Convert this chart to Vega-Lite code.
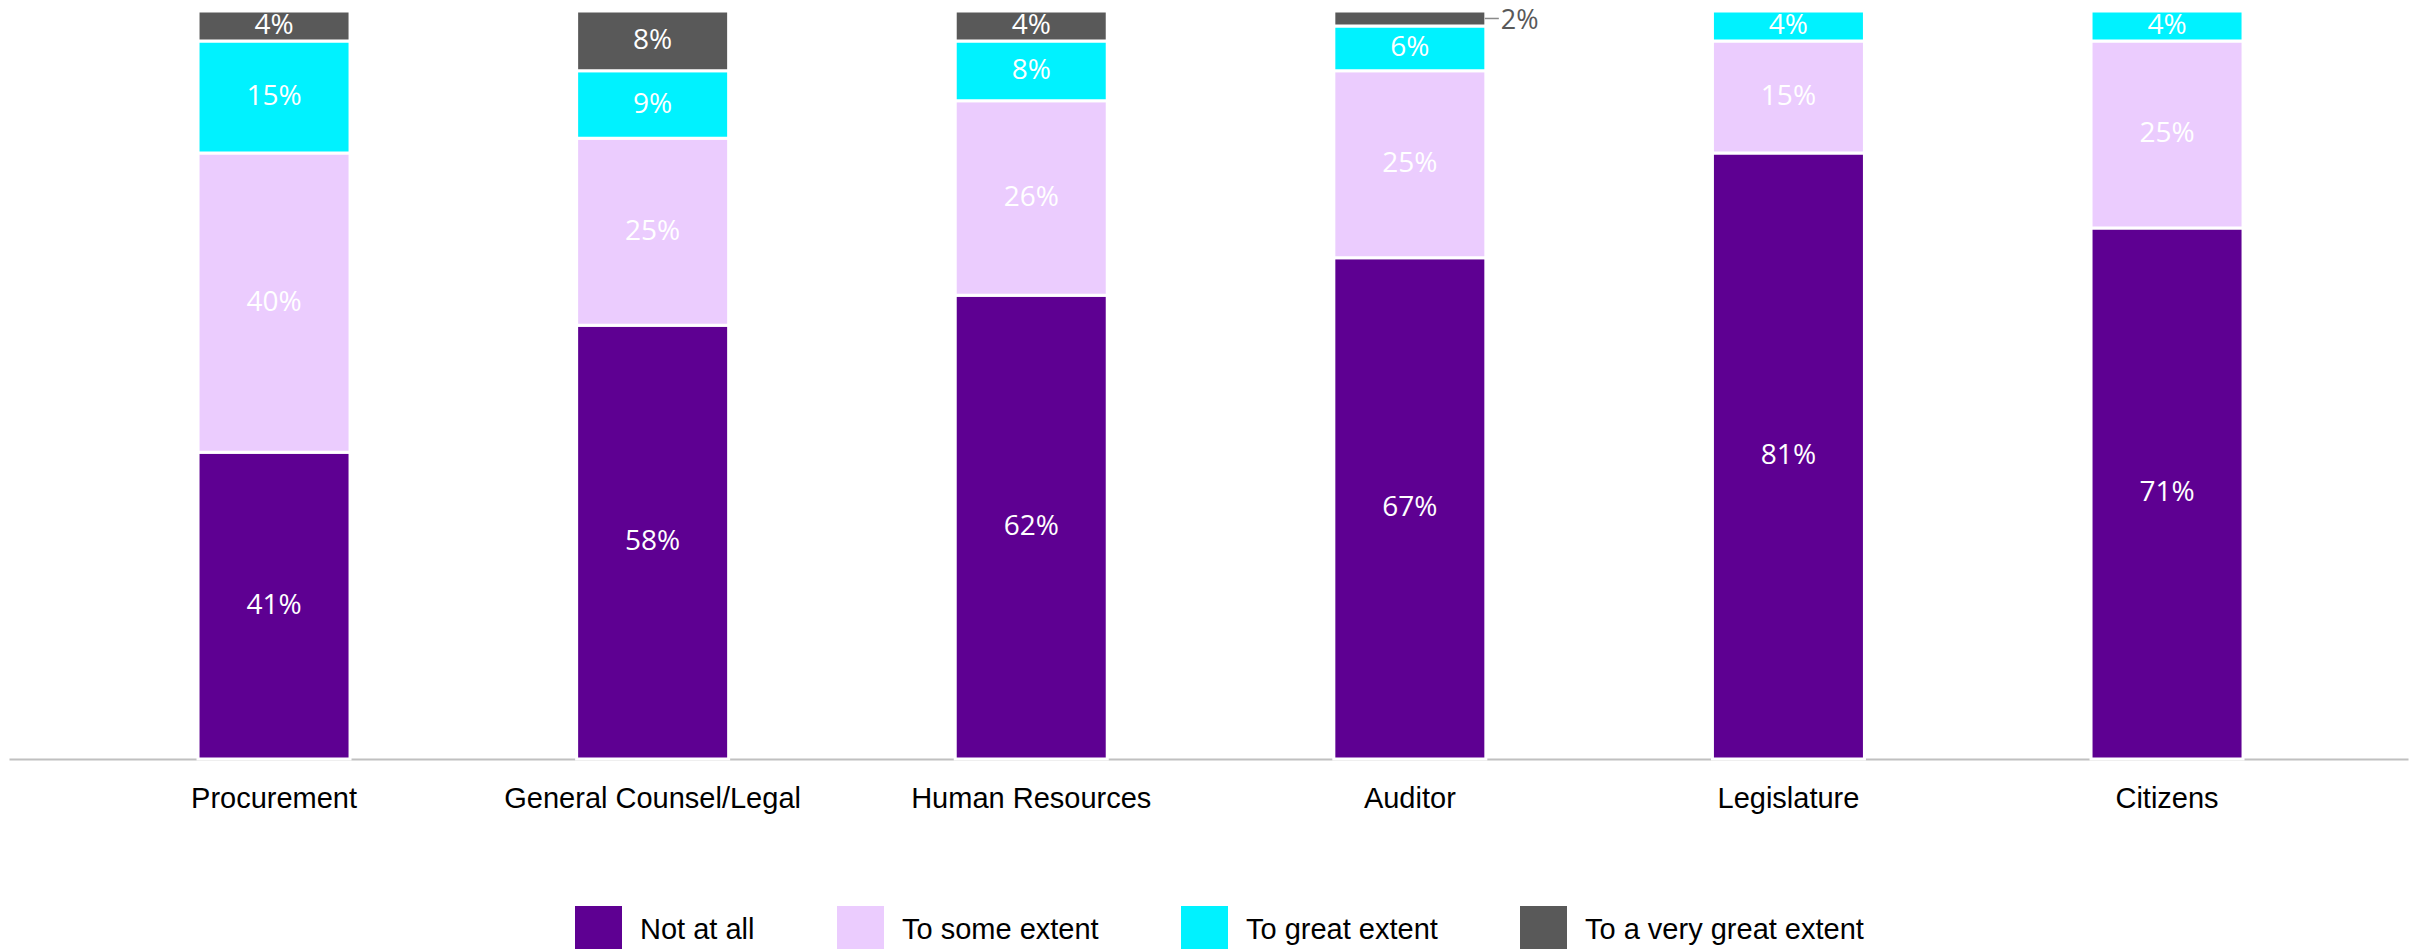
{
  "$schema": "https://vega.github.io/schema/vega-lite/v6.json",
  "autosize": {"type": "none"},
  "padding": {"left": 9, "top": 11, "right": 9, "bottom": 190},
  "width": 2399,
  "height": 748,
  "background": "white",
  "config": {"view": {"stroke": null}},
  "data": {
    "values": [
      {"category": "Procurement", "response": "Not at all", "order": 1, "value": 41},
      {"category": "Procurement", "response": "To some extent", "order": 2, "value": 40},
      {"category": "Procurement", "response": "To great extent", "order": 3, "value": 15},
      {"category": "Procurement", "response": "To a very great extent", "order": 4, "value": 4},
      {"category": "General Counsel/Legal", "response": "Not at all", "order": 1, "value": 58},
      {"category": "General Counsel/Legal", "response": "To some extent", "order": 2, "value": 25},
      {"category": "General Counsel/Legal", "response": "To great extent", "order": 3, "value": 9},
      {"category": "General Counsel/Legal", "response": "To a very great extent", "order": 4, "value": 8},
      {"category": "Human Resources", "response": "Not at all", "order": 1, "value": 62},
      {"category": "Human Resources", "response": "To some extent", "order": 2, "value": 26},
      {"category": "Human Resources", "response": "To great extent", "order": 3, "value": 8},
      {"category": "Human Resources", "response": "To a very great extent", "order": 4, "value": 4},
      {"category": "Auditor", "response": "Not at all", "order": 1, "value": 67},
      {"category": "Auditor", "response": "To some extent", "order": 2, "value": 25},
      {"category": "Auditor", "response": "To great extent", "order": 3, "value": 6},
      {"category": "Auditor", "response": "To a very great extent", "order": 4, "value": 2},
      {"category": "Legislature", "response": "Not at all", "order": 1, "value": 81},
      {"category": "Legislature", "response": "To some extent", "order": 2, "value": 15},
      {"category": "Legislature", "response": "To great extent", "order": 3, "value": 4},
      {"category": "Citizens", "response": "Not at all", "order": 1, "value": 71},
      {"category": "Citizens", "response": "To some extent", "order": 2, "value": 25},
      {"category": "Citizens", "response": "To great extent", "order": 3, "value": 4}
    ]
  },
  "transform": [
    {"stack": "value", "groupby": ["category"], "sort": [{"field": "order", "order": "ascending"}], "as": ["y0", "y1"]},
    {"calculate": "(datum.y0 + datum.y1) / 2", "as": "ymid"},
    {"calculate": "datum.value + '%'", "as": "label"}
  ],
  "encoding": {
    "x": {
      "field": "category",
      "type": "nominal",
      "sort": null,
      "scale": {"paddingInner": 0.5985, "paddingOuter": 0.4675, "align": 0.534},
      "axis": {
        "title": null,
        "ticks": false,
        "tickSize": 0,
        "labelAngle": 0,
        "labelFont": "Liberation Sans",
        "labelFontSize": 29,
        "labelColor": "#000000",
        "labelBaseline": "alphabetic",
        "labelPadding": 48,
        "labelLimit": 500,
        "domainColor": "#c0c0c0",
        "domainWidth": 2,
        "grid": false
      }
    }
  },
  "layer": [
    {
      "mark": {"type": "bar", "stroke": "white", "strokeWidth": 3},
      "encoding": {
        "y": {"field": "y0", "type": "quantitative", "scale": {"domain": [0, 100], "nice": false}, "axis": null},
        "y2": {"field": "y1"},
        "color": {
          "field": "response",
          "type": "nominal",
          "scale": {
            "domain": ["Not at all", "To some extent", "To great extent", "To a very great extent"],
            "range": ["#5e0092", "#ebccfe", "#00f2ff", "#595959"]
          },
          "legend": {
            "title": null,
            "orient": "none",
            "legendX": 566,
            "legendY": 895,
            "direction": "horizontal",
            "symbolType": "square",
            "symbolSize": 2209,
            "symbolStrokeWidth": 0,
            "symbolOpacity": 1,
            "labelFont": "Liberation Sans",
            "labelFontSize": 29,
            "labelColor": "#000000",
            "labelOffset": 18,
            "labelLimit": 500,
            "columnPadding": 82,
            "padding": 0
          }
        }
      }
    },
    {
      "transform": [{"filter": "datum.value >= 3"}],
      "mark": {"type": "text", "font": "Open Sans", "fontSize": 28, "color": "white", "baseline": "middle", "align": "center"},
      "encoding": {
        "y": {"field": "ymid", "type": "quantitative"},
        "text": {"field": "label"}
      }
    },
    {
      "transform": [{"filter": "datum.value < 3"}],
      "mark": {"type": "text", "font": "Open Sans", "fontSize": 27, "color": "#595959", "baseline": "middle", "align": "left", "dx": 91, "dy": 3},
      "encoding": {
        "y": {"field": "ymid", "type": "quantitative"},
        "text": {"field": "label"}
      }
    },
    {
      "transform": [{"filter": "datum.value < 3"}],
      "mark": {"type": "tick", "color": "#595959", "size": 14, "thickness": 1.5, "xOffset": 82, "orient": "horizontal"},
      "encoding": {
        "y": {"field": "ymid", "type": "quantitative"}
      }
    }
  ]
}
